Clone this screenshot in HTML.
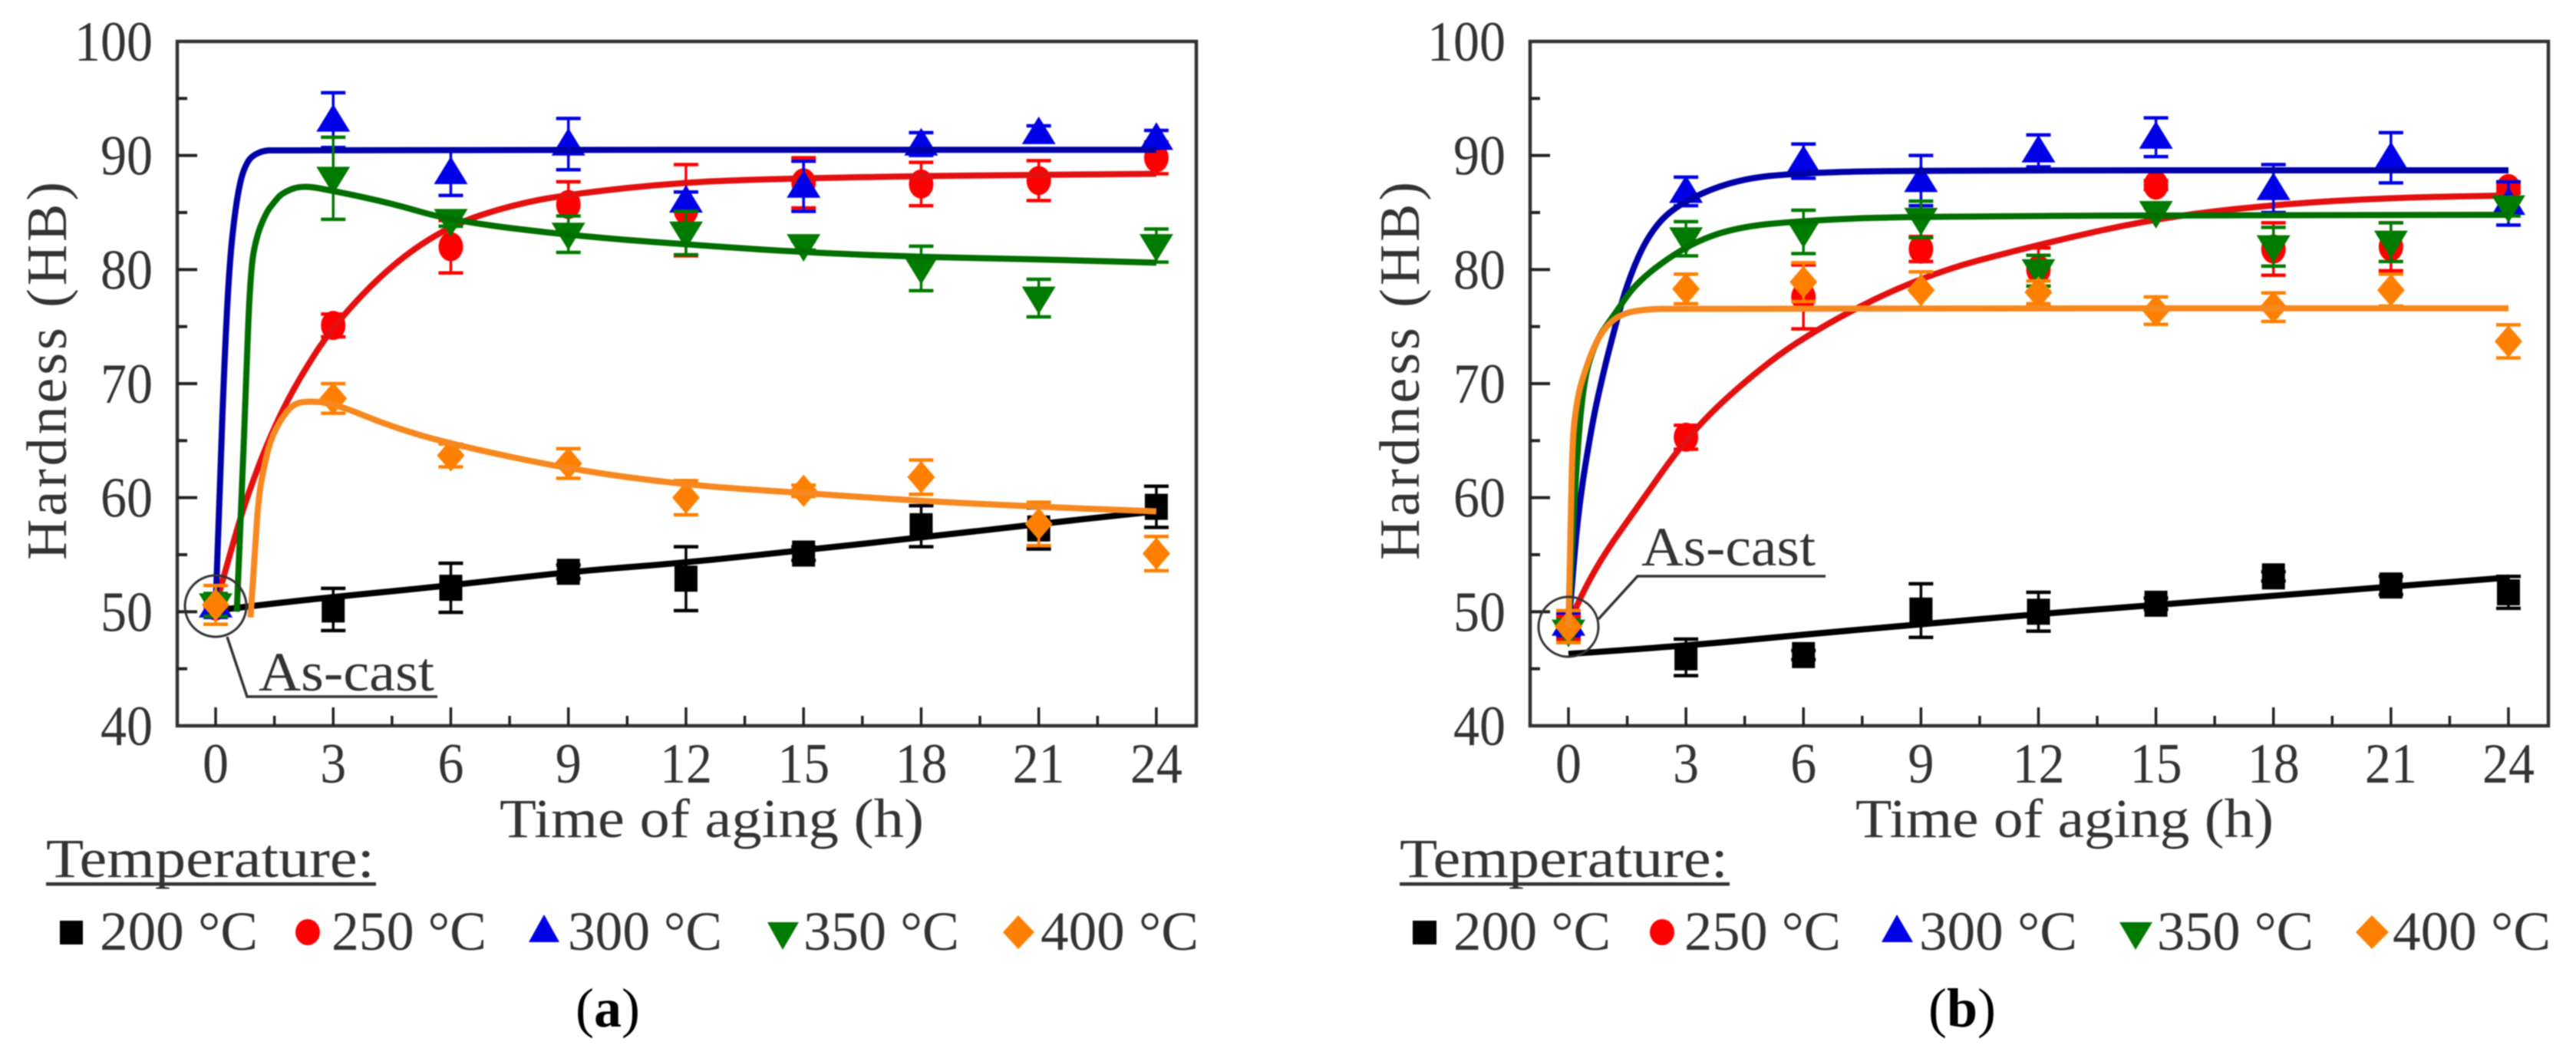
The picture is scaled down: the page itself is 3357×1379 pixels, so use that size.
<!DOCTYPE html>
<html lang="en">
<head>
<meta charset="utf-8">
<title>Hardness vs time of aging</title>
<style>
html,body{margin:0;padding:0;background:#fff;}
svg{display:block;filter:blur(0.8px);}
text{font-family:"Liberation Serif",serif;fill:#333;}
</style>
</head>
<body>
<svg id="figure" xmlns="http://www.w3.org/2000/svg" width="3357" height="1379" viewBox="0 0 3357 1379">
<rect width="3357" height="1379" fill="#fff"/>

<g id="panel-a"></g>
<g id="panel-b"></g>

<g>
<circle cx="281" cy="790" r="40" fill="none" stroke="#333" stroke-width="3"/>
<polyline points="296,830 322,908 570,908" fill="none" stroke="#333" stroke-width="3.5"/>
<text x="337" y="900" font-size="72" textLength="229" lengthAdjust="spacingAndGlyphs">As-cast</text>
</g>
<g>
<circle cx="2044" cy="817" r="39" fill="none" stroke="#333" stroke-width="3"/>
<polyline points="2083,807 2134,751 2379,751" fill="none" stroke="#333" stroke-width="3.5"/>
<text x="2139" y="737" font-size="72" textLength="227" lengthAdjust="spacingAndGlyphs">As-cast</text>
</g>

<text transform="translate(86,730) rotate(-90)" font-size="74" textLength="493" lengthAdjust="spacing">Hardness (HB)</text>
<text transform="translate(1849,730) rotate(-90)" font-size="74" textLength="493" lengthAdjust="spacing">Hardness (HB)</text>
<text x="651" y="1091" font-size="72" textLength="553" lengthAdjust="spacingAndGlyphs">Time of aging (h)</text>
<text x="2418" y="1091" font-size="72" textLength="545" lengthAdjust="spacingAndGlyphs">Time of aging (h)</text>

<g>
<text x="60" y="1143" font-size="72" textLength="428" lengthAdjust="spacingAndGlyphs">Temperature:</text>
<rect x="60" y="1150" width="430" height="4.5" fill="#333"/>
<rect x="78" y="1200" width="30" height="31" fill="#000"/>
<text x="130" y="1238" font-size="72" textLength="206" lengthAdjust="spacingAndGlyphs">200 °C</text>
<ellipse cx="401" cy="1215" rx="16" ry="17" fill="#f00"/>
<text x="432" y="1238" font-size="72" textLength="202" lengthAdjust="spacingAndGlyphs">250 °C</text>
<polygon points="709,1192 729,1228 689,1228" fill="#0000e6"/>
<text x="740" y="1238" font-size="72" textLength="201" lengthAdjust="spacingAndGlyphs">300 °C</text>
<polygon points="1000,1202 1041,1202 1020,1238" fill="#007a00"/>
<text x="1047" y="1238" font-size="72" textLength="203" lengthAdjust="spacingAndGlyphs">350 °C</text>
<polygon points="1327,1193 1348,1215 1327,1237 1307,1215" fill="#ff8000"/>
<text x="1356" y="1238" font-size="72" textLength="206" lengthAdjust="spacingAndGlyphs">400 °C</text>
</g>

<g>
<text x="1824" y="1143" font-size="72" textLength="428" lengthAdjust="spacingAndGlyphs">Temperature:</text>
<rect x="1824" y="1150" width="430" height="4.5" fill="#333"/>
<rect x="1841" y="1200" width="31" height="31" fill="#000"/>
<text x="1894" y="1238" font-size="72" textLength="205" lengthAdjust="spacingAndGlyphs">200 °C</text>
<ellipse cx="2166" cy="1215" rx="16" ry="17" fill="#f00"/>
<text x="2195" y="1238" font-size="72" textLength="204" lengthAdjust="spacingAndGlyphs">250 °C</text>
<polygon points="2472,1192 2493,1228 2452,1228" fill="#0000e6"/>
<text x="2501" y="1238" font-size="72" textLength="206" lengthAdjust="spacingAndGlyphs">300 °C</text>
<polygon points="2762,1202 2805,1202 2783,1238" fill="#007a00"/>
<text x="2811" y="1238" font-size="72" textLength="204" lengthAdjust="spacingAndGlyphs">350 °C</text>
<polygon points="3091,1193 3113,1215 3091,1237 3070,1215" fill="#ff8000"/>
<text x="3118" y="1238" font-size="72" textLength="206" lengthAdjust="spacingAndGlyphs">400 °C</text>
</g>

<text x="792" y="1338" font-size="72" text-anchor="middle" style="fill:#000">(<tspan font-weight="bold">a</tspan>)</text>
<text x="2557" y="1338" font-size="72" text-anchor="middle" style="fill:#000">(<tspan font-weight="bold">b</tspan>)</text>
</svg>

<script>
// ---------- Shared categories and tick labels ----------
const hours = [0, 3, 6, 9, 12, 15, 18, 21, 24];
const minorHours = [1.5, 4.5, 7.5, 10.5, 13.5, 16.5, 19.5, 22.5];
const xTickLabels = ["0", "3", "6", "9", "12", "15", "18", "21", "24"];
const yTicks = [40, 50, 60, 70, 80, 90, 100];
const yMinorTicks = [45, 55, 65, 75, 85, 95];
const yTickLabels = ["40", "50", "60", "70", "80", "90", "100"];

// ---------- Panel (a) measured hardness ----------
const a200Values = [50.5, 50.2, 52.1, 53.5, 52.9, 55.1, 57.5, 57.3, 59.2];
const a200Errors = [1.0, 1.85, 2.15, 0.6, 2.8, 0.6, 1.8, 1.8, 1.8];
const a250Values = [50.5, 75.1, 82.0, 85.7, 85.2, 87.6, 87.5, 87.8, 89.8];
const a250Errors = [1.0, 1.0, 2.3, 2.0, 4.0, 2.2, 1.9, 1.75, 1.4];
const a300Values = [50.5, 93.1, 88.5, 91.0, 86.0, 87.3, 91.0, 92.0, 91.5];
const a300Errors = [1.0, 2.4, 2.0, 2.25, 0.8, 2.2, 1.0, 0.6, 0.7];
const a350Values = [50.6, 88.0, 84.3, 83.1, 83.2, 82.1, 80.1, 77.5, 82.1];
const a350Errors = [1.0, 3.6, 0.5, 1.6, 1.9, 0.4, 1.95, 1.65, 1.45];
const a400Values = [50.6, 68.7, 63.7, 63.0, 60.0, 60.6, 61.8, 57.7, 55.1];
const a400Errors = [1.7, 1.3, 1.0, 1.3, 1.5, 0.5, 1.5, 1.9, 1.5];

// ---------- Panel (a) fitted curves ----------
const a200FitTimes = [0, 0.9, 3, 6, 9, 12, 15, 18, 21, 24];
const a200FitValues = [50.1, 50.5, 51.3, 52.3, 53.5, 54.3, 55.4, 56.5, 57.7, 58.8];
const a250FitTimes = [0, 0.4, 0.79, 1.4, 2.05, 3, 4.5, 6, 7.5, 9, 12, 15, 18, 21, 24];
const a250FitValues = [50.5, 55.5, 60, 65.5, 70, 75.1, 80.5, 83.9, 85.6, 86.6, 87.7, 88, 88.2, 88.3, 88.4];
const a300FitTimes = [0, 0.1, 0.2, 0.34, 0.49, 0.64, 0.8, 0.95, 1.2, 1.5, 24];
const a300FitValues = [50.5, 60, 70, 80, 85, 88, 89.4, 90, 90.4, 90.5, 90.5];
const a350FitTimes = [0.54, 0.67, 0.77, 0.89, 1.05, 1.29, 1.49, 1.69, 2.19, 3, 4.5, 6, 9, 12, 15, 18, 21, 24];
const a350FitValues = [50, 60, 70, 80, 83, 85, 85.9, 86.7, 87.4, 86.9, 85.8, 84.3, 83, 82.2, 81.5, 81.1, 80.9, 80.6];
const a400FitTimes = [0.89, 1.0, 1.09, 1.25, 1.44, 1.84, 2.19, 3, 4.5, 6, 9, 12, 15, 18, 21, 24];
const a400FitValues = [49.5, 55, 60, 63, 65.5, 67.8, 68.5, 68.3, 66.2, 64.7, 62.5, 61.1, 60.4, 59.7, 59.2, 58.8];

// ---------- Panel (b) measured hardness ----------
const b200Values = [48.6, 46.0, 46.2, 50.1, 50.0, 50.7, 53.1, 52.3, 51.7];
const b200Errors = [1.0, 1.6, 0.4, 2.35, 1.7, 0.5, 0.4, 0.8, 1.4];
const b250Values = [48.6, 65.3, 77.6, 81.8, 80.0, 87.4, 81.8, 82.0, 87.1];
const b250Errors = [1.0, 1.05, 2.8, 1.1, 1.9, 0.4, 2.3, 2.1, 0.4];
const b300Values = [48.9, 86.85, 89.5, 87.8, 90.4, 91.6, 87.1, 89.8, 85.8];
const b300Errors = [1.0, 1.25, 1.5, 2.2, 1.4, 1.7, 2.1, 2.2, 1.9];
const b350Values = [48.3, 82.7, 83.3, 84.4, 79.9, 85.0, 82.0, 82.4, 85.5];
const b350Errors = [1.0, 1.5, 1.9, 1.6, 1.35, 0.4, 1.7, 1.7, 0.8];
const b400Values = [48.7, 78.3, 78.9, 78.2, 78.0, 76.4, 76.7, 78.2, 73.7];
const b400Errors = [1.4, 1.3, 1.7, 1.6, 1.0, 1.2, 1.25, 1.4, 1.45];

// ---------- Panel (b) fitted curves ----------
const b200FitTimes = [0, 3, 6, 9, 12, 15, 18, 21, 24];
const b200FitValues = [46.3, 47, 48, 48.9, 49.8, 50.6, 51.4, 52.2, 53];
const b250FitTimes = [0, 0.1, 0.76, 1.76, 3, 4.25, 6, 8.95, 12, 15, 18, 21, 24];
const b250FitValues = [48.6, 49.8, 54.3, 59.2, 65.2, 69.5, 74.2, 79.4, 82.2, 84.5, 85.7, 86.3, 86.5];
const b300FitTimes = [0, 0.06, 0.25, 0.61, 0.86, 1.1, 1.51, 2.06, 2.76, 4.25, 6, 9, 24];
const b300FitValues = [48.6, 51, 59, 66.6, 70.5, 73.8, 79, 83.2, 85.7, 87.9, 88.5, 88.7, 88.7];
const b350FitTimes = [0, 0.06, 0.15, 0.36, 0.7, 1.16, 1.76, 3, 4.25, 6, 9, 24];
const b350FitValues = [48.6, 53, 60, 70, 73.8, 76, 79, 82.1, 83.7, 84.3, 84.7, 84.8];
const b400FitTimes = [0, 0.06, 0.11, 0.2, 0.31, 0.7, 1.16, 1.76, 3, 24];
const b400FitValues = [48.7, 58.8, 65.5, 68, 70, 73.8, 75.8, 76.5, 76.6, 76.6];

// ---------- Axis functions ----------
const SVG_NS = "http://www.w3.org/2000/svg";
const plotTop = 54;
const plotBottom = 946;
const yMin = 40;
const yPerUnit = (plotBottom - plotTop) / 60;

function yScale(v) {
  return plotBottom - (v - yMin) * yPerUnit;
}
function makeXScale(x0, step) {
  return function (t) { return x0 + t * step; };
}

function el(parent, tag, attrs) {
  const node = document.createElementNS(SVG_NS, tag);
  Object.keys(attrs).forEach(function (k) { node.setAttribute(k, attrs[k]); });
  parent.appendChild(node);
  return node;
}

function smoothPath(xs, ys) {
  let d = "M" + xs[0].toFixed(1) + " " + ys[0].toFixed(1);
  for (let i = 1; i < xs.length - 1; i++) {
    const mx = (xs[i] + xs[i + 1]) / 2;
    const my = (ys[i] + ys[i + 1]) / 2;
    d += " Q" + xs[i].toFixed(1) + " " + ys[i].toFixed(1) + " " + mx.toFixed(1) + " " + my.toFixed(1);
  }
  d += " L" + xs[xs.length - 1].toFixed(1) + " " + ys[ys.length - 1].toFixed(1);
  return d;
}

function drawMarker(g, kind, cx, cy, color) {
  let m;
  if (kind === "square") {
    m = el(g, "rect", { x: cx - 15, y: cy - 17, width: 30, height: 34, fill: color });
  } else if (kind === "circle") {
    m = el(g, "ellipse", { cx: cx, cy: cy, rx: 16, ry: 19, fill: color });
  } else if (kind === "up") {
    m = el(g, "polygon", { points: cx + "," + (cy - 21) + " " + (cx + 22) + "," + (cy + 15) + " " + (cx - 22) + "," + (cy + 15), fill: color });
  } else if (kind === "down") {
    m = el(g, "polygon", { points: (cx - 22) + "," + (cy - 15) + " " + (cx + 22) + "," + (cy - 15) + " " + cx + "," + (cy + 21), fill: color });
  } else {
    m = el(g, "polygon", { points: cx + "," + (cy - 21) + " " + (cx + 18) + "," + cy + " " + cx + "," + (cy + 21) + " " + (cx - 18) + "," + cy, fill: color });
  }
  
  
}

function drawSeries(root, x, s) {
  const g = el(root, "g", {});
  
  
  hours.forEach(function (t, i) {
    const cx = x(t);
    const top = yScale(s.values[i] + s.errors[i]);
    const bot = yScale(s.values[i] - s.errors[i]);
    const stem = el(g, "line", { x1: cx, x2: cx, y1: top, y2: bot, stroke: s.color, "stroke-width": 3.5 });
    
    
    const capTop = el(g, "line", { x1: cx - 16, x2: cx + 16, y1: top, y2: top, stroke: s.color, "stroke-width": 4.5 });
    
    
    const capBot = el(g, "line", { x1: cx - 16, x2: cx + 16, y1: bot, y2: bot, stroke: s.color, "stroke-width": 4.5 });
    
    
    drawMarker(g, s.kind, cx, yScale(s.values[i]), s.color);
  });
  const curve = el(g, "path", {
    d: smoothPath(s.fitTimes.map(x), s.fitValues.map(yScale)),
    fill: "none", stroke: s.fitColor, "stroke-width": 8, "stroke-linejoin": "round"
  });
  
  
}

function drawAxes(root, x, left, right) {
  const frame = el(root, "rect", {
    x: left, y: plotTop, width: right - left, height: plotBottom - plotTop,
    fill: "none", stroke: "#333", "stroke-width": 4.5
  });
  
  

  hours.forEach(function (t, i) {
    const tick = el(root, "line", { x1: x(t), x2: x(t), y1: plotBottom, y2: plotBottom - 24, stroke: "#222", "stroke-width": 3.5 });
    
    
    const label = el(root, "text", { x: x(t), y: 1020, "font-size": 74, "text-anchor": "middle", textLength: xTickLabels[i].length * 34, lengthAdjust: "spacingAndGlyphs" });
    label.textContent = xTickLabels[i];
    
    
  });
  minorHours.forEach(function (t) {
    const tick = el(root, "line", { x1: x(t), x2: x(t), y1: plotBottom, y2: plotBottom - 13, stroke: "#222", "stroke-width": 3.5 });
    
    
  });
  yTicks.forEach(function (v, i) {
    if (v !== 40 && v !== 100) {
      const tick = el(root, "line", { x1: left, x2: left + 26, y1: yScale(v), y2: yScale(v), stroke: "#222", "stroke-width": 4 });
      
      
    }
    const label = el(root, "text", { x: left - 32, y: yScale(v) + 25, "font-size": 74, "text-anchor": "end", textLength: yTickLabels[i].length * 34, lengthAdjust: "spacingAndGlyphs" });
    label.textContent = yTickLabels[i];
    
    
  });
  yMinorTicks.forEach(function (v) {
    const tick = el(root, "line", { x1: left, x2: left + 13, y1: yScale(v), y2: yScale(v), stroke: "#222", "stroke-width": 4 });
    
    
  });
}

const style200 = { label: "200C", kind: "square", color: "#000", fitColor: "#000" };
const style250 = { label: "250C", kind: "circle", color: "#f00", fitColor: "#e31010" };
const style300 = { label: "300C", kind: "up", color: "#0000e6", fitColor: "#0000a8" };
const style350 = { label: "350C", kind: "down", color: "#007a00", fitColor: "#006f00" };
const style400 = { label: "400C", kind: "diamond", color: "#ff8000", fitColor: "#f6881f" };

function series(style, values, errors, fitTimes, fitValues) {
  return Object.assign({}, style, { values: values, errors: errors, fitTimes: fitTimes, fitValues: fitValues });
}

function drawPanel(id, left, right, x0, step, list) {
  const root = document.getElementById(id);
  const x = makeXScale(x0, step);
  list.forEach(function (s) { drawSeries(root, x, s); });
  drawAxes(root, x, left, right);
}

drawPanel("panel-a", 231, 1559, 281, 51.08, [
  series(style200, a200Values, a200Errors, a200FitTimes, a200FitValues),
  series(style250, a250Values, a250Errors, a250FitTimes, a250FitValues),
  series(style300, a300Values, a300Errors, a300FitTimes, a300FitValues),
  series(style350, a350Values, a350Errors, a350FitTimes, a350FitValues),
  series(style400, a400Values, a400Errors, a400FitTimes, a400FitValues)
]);
drawPanel("panel-b", 1994, 3321, 2044, 51.04, [
  series(style200, b200Values, b200Errors, b200FitTimes, b200FitValues),
  series(style250, b250Values, b250Errors, b250FitTimes, b250FitValues),
  series(style300, b300Values, b300Errors, b300FitTimes, b300FitValues),
  series(style350, b350Values, b350Errors, b350FitTimes, b350FitValues),
  series(style400, b400Values, b400Errors, b400FitTimes, b400FitValues)
]);
</script>
</body>
</html>
